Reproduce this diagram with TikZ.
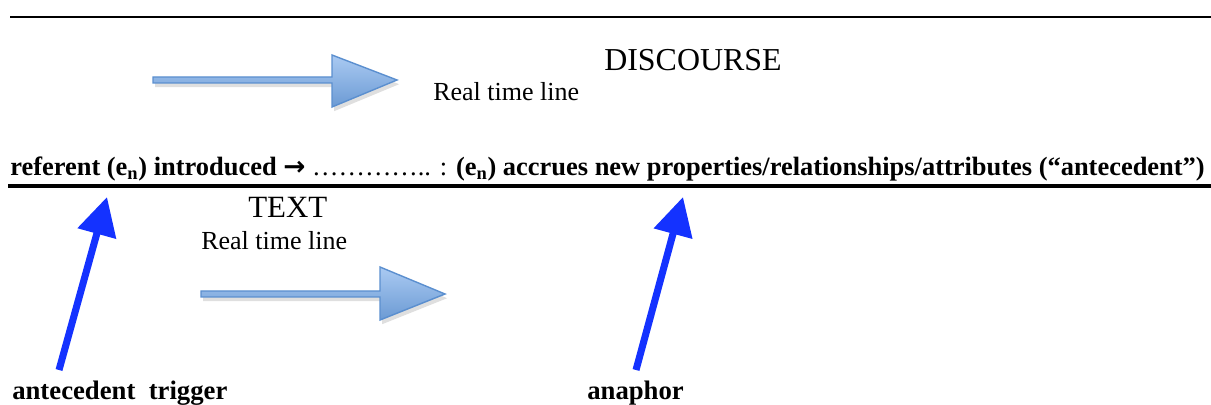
\documentclass[tikz,border=0pt]{standalone}
\usepackage{fontspec}
\setmainfont{Liberation Serif}
\newfontfamily\arrowfont{DejaVu Sans}
\usepackage{tikz}
\usetikzlibrary{arrows.meta,shadows}

\definecolor{timeblue}{RGB}{91,143,207}
\definecolor{timelight}{RGB}{170,202,242}
\definecolor{pointblue}{RGB}{20,50,255}

\begin{document}
\begin{tikzpicture}[x=0.025cm,y=-0.025cm,
	timearrow/.style={draw=timeblue,line width=1pt,top color=timelight,bottom color=timeblue!90,
		drop shadow={opacity=0.25,shadow xshift=1.5pt,shadow yshift=-3pt}},
	pointer/.style={pointblue,line width=5pt,-{Triangle[length=0.95cm,width=0.96cm]},
		drop shadow={opacity=0.2,shadow xshift=2pt,shadow yshift=-2pt}},
	label/.style={anchor=base west,inner sep=0pt}]
	\useasboundingbox (0,0) rectangle (1211,405);

	\draw[line width=1.4pt] (10,17)--(1211,17);

	% discourse level
	\node[label,font=\fontsize{22.7}{26}\selectfont] (discourse) at (604,71) {DISCOURSE};
	\node[label,font=\fontsize{18.5}{22}\selectfont] (discline) at (433,101) {Real time line};
	\path[timearrow] (153,77)--(332,77)--(332,55)--(397,80)--(332,107)--(332,83)--(153,83)--cycle;

	% the referent line
	\node[label,font=\bfseries\fontsize{18.8}{23}\selectfont] (referent) at (10,176)
		{referent (e\textsubscript{n}) introduced {\arrowfont\bfseries →} {\mdseries\ldots\ldots\ldots\ldots.. :} (e\textsubscript{n}) accrues new properties/relationships/attributes (“antecedent”)};
	\draw[line width=3.5pt] (8,186)--(1211,186);

	% text level
	\node[label,font=\fontsize{22}{26}\selectfont] (text) at (248,218) {TEXT};
	\node[label,font=\fontsize{18.5}{22}\selectfont] (textline) at (201,250) {Real time line};
	\path[timearrow] (201,291)--(380,291)--(380,267)--(445,294)--(380,320)--(380,297)--(201,297)--cycle;

	% pointers
	\node[label,font=\bfseries\fontsize{19}{23}\selectfont] (trigger) at (12,400) {antecedent\ \ trigger};
	\node[label,font=\bfseries\fontsize{19}{23}\selectfont] (anaphor) at (587,400) {anaphor};
	\coordinate (triggerTail) at (59,370);
	\coordinate (triggerTip) at (107,197);
	\coordinate (anaphorTail) at (636,370);
	\coordinate (anaphorTip) at (683,197);
	\draw[pointer] (triggerTail)--(triggerTip);
	\draw[pointer] (anaphorTail)--(anaphorTip);
\end{tikzpicture}
\end{document}
